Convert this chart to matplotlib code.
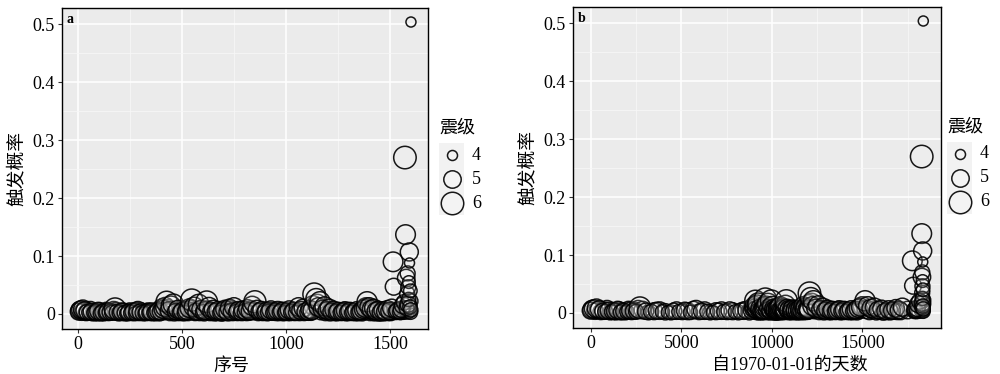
import matplotlib
matplotlib.use("Agg")
import matplotlib.pyplot as plt
from matplotlib.ticker import MultipleLocator, FuncFormatter
from matplotlib.patches import Rectangle

plt.rcParams['font.family'] = ['Liberation Serif', 'Noto Sans CJK SC', 'DejaVu Sans']

## --data (a thinned sample of the events)
seq_no = [2, 12, 22, 31, 42, 53, 64, 75, 86, 97, 108, 119, 130, 141, 152, 163, 177,
          188, 199, 210, 221, 232, 243, 254, 265, 276, 287, 298, 309, 320, 331, 342, 353, 364, 375, 386, 397,
          408, 418, 425, 436, 446, 457, 468, 479, 490, 501, 512, 523, 534, 546, 557, 568, 579, 590, 601, 612,
          618, 629, 640, 650,
          661, 672, 683, 694, 705, 716, 727, 738, 749, 760, 771, 782, 793, 804, 815, 826, 837, 850,
          861, 872, 883, 894, 905, 916, 927, 938, 949, 960, 971, 982, 993, 1004, 1015, 1026, 1037, 1048,
          1060, 1071, 1082, 1093, 1104, 1115, 1125, 1135,
          1145, 1155, 1163, 1174, 1185, 1196, 1207, 1218, 1229, 1240, 1251, 1262, 1273, 1284, 1295, 1306,
          1317, 1328, 1339, 1350, 1361, 1372, 1381, 1390,
          1400, 1410, 1421, 1432, 1443, 1454, 1465, 1476, 1487, 1498, 1508,
          1515, 1518, 1525, 1535, 1545, 1555, 1562, 1568, 1572, 1575, 1578, 1580, 1583, 1585, 1587, 1588,
          1590, 1591, 1593, 1594, 1596, 1598, 1600, 1601]

days = [0, 150, 320, 470, 650, 800, 990, 1150, 1320, 1490, 1660, 1830, 2000, 2170, 2340, 2510, 2720,
        3030, 3340, 3650, 3960, 4270, 4580, 4890, 5200, 5510, 5820, 6130, 6440, 6750, 7060, 7370, 7680, 7990, 8300, 8610, 8900,
        9010, 9060, 9090, 9140, 9190, 9240, 9290, 9340, 9390, 9440, 9490, 9540, 9590, 9640, 9690, 9740, 9790, 9840, 9890, 9940,
        9970, 10020, 10070, 10110,
        10150, 10190, 10230, 10270, 10310, 10340, 10380, 10420, 10460, 10490, 10530, 10570, 10610, 10640, 10680, 10720, 10760, 10800,
        10850, 10900, 10950, 11000, 11050, 11100, 11150, 11200, 11250, 11300, 11350, 11400, 11450, 11500, 11550, 11600, 11640, 11690,
        11740, 11790, 11840, 11890, 11940, 11990, 12030, 12080,
        12150, 12230, 12300, 12430, 12560, 12690, 12820, 12950, 13080, 13210, 13340, 13470, 13600, 13730, 13860, 13990,
        14120, 14250, 14380, 14510, 14640, 14770, 14900, 15150,
        15300, 15480, 15670, 15870, 16060, 16250, 16450, 16640, 16840, 17030, 17210,
        17760, 17800, 17840, 17900, 17960, 18020, 18080, 18150, 18277, 18280, 18290, 18300, 18305, 18310, 18315, 18318,
        18322, 18325, 18332, 18335, 18340, 18350, 18358, 18365]

prob = [0.004, 0.007, 0.008, 0.006, 0.003, 0.002, 0.004, 0.002, 0.003, 0.005, 0.001, 0.003, 0.002, 0.004, 0.003, 0.002, 0.009,
        0.003, 0.002, 0.004, 0.002, 0.001, 0.003, 0.002, 0.004, 0.001, 0.006, 0.003, 0.002, 0.001, 0.003, 0.002, 0.004, 0.002, 0.003, 0.005, 0.004,
        0.008, 0.012, 0.021, 0.006, 0.014, 0.017, 0.004, 0.008, 0.003, 0.005, 0.002, 0.006, 0.010, 0.024, 0.012, 0.004, 0.016, 0.008, 0.003, 0.006,
        0.021, 0.012, 0.005, 0.008,
        0.004, 0.006, 0.002, 0.005, 0.008, 0.003, 0.010, 0.004, 0.012, 0.003, 0.006, 0.002, 0.007, 0.004, 0.009, 0.005, 0.014, 0.021,
        0.008, 0.004, 0.006, 0.002, 0.005, 0.003, 0.007, 0.002, 0.004, 0.006, 0.003, 0.005, 0.002, 0.004, 0.007, 0.003, 0.005, 0.002,
        0.012, 0.006, 0.010, 0.004, 0.003, 0.008, 0.006, 0.034,
        0.026, 0.012, 0.021, 0.008, 0.013, 0.006, 0.010, 0.004, 0.007, 0.003, 0.005, 0.002, 0.004, 0.006, 0.003, 0.005,
        0.002, 0.004, 0.006, 0.003, 0.005, 0.008, 0.010, 0.021,
        0.012, 0.008, 0.010, 0.005, 0.007, 0.003, 0.006, 0.004, 0.008, 0.005, 0.010,
        0.090, 0.047, 0.004, 0.006, 0.003, 0.008, 0.015, 0.020, 0.270, 0.137, 0.062, 0.010, 0.035, 0.070, 0.017, 0.046,
        0.025, 0.055, 0.107, 0.088, 0.012, 0.040, 0.007, 0.504]

mag = [4.9, 5.1, 5.2, 5.0, 4.7, 4.6, 4.9, 4.5, 4.8, 5.0, 4.6, 4.8, 4.5, 4.9, 4.7, 4.6, 5.8,
       4.8, 4.6, 4.9, 4.5, 4.4, 4.8, 4.6, 4.9, 4.5, 5.1, 4.8, 4.6, 4.4, 4.8, 4.6, 5.0, 4.5, 4.8, 5.0, 4.9,
       5.1, 5.3, 5.7, 5.0, 5.4, 5.5, 4.8, 5.1, 4.7, 5.0, 4.6, 5.1, 5.2, 5.9, 5.4, 4.9, 5.6, 5.1, 4.7, 5.1,
       5.8, 5.3, 4.9, 5.1,
       4.9, 5.1, 4.6, 5.0, 5.1, 4.8, 5.1, 4.9, 5.2, 4.7, 5.1, 4.6, 5.1, 4.8, 5.1, 5.0, 5.3, 5.9,
       5.1, 4.9, 5.1, 4.6, 5.0, 4.8, 5.1, 4.6, 4.9, 5.1, 4.7, 5.0, 4.5, 4.9, 5.1, 4.7, 5.0, 4.6,
       5.2, 5.1, 5.1, 4.9, 4.7, 5.1, 5.1, 6.0,
       5.6, 5.2, 5.5, 5.1, 5.3, 5.0, 5.1, 4.9, 5.0, 4.7, 5.0, 4.6, 4.9, 5.0, 4.7, 5.0,
       4.6, 4.9, 5.0, 4.7, 5.0, 5.1, 5.1, 5.5,
       5.2, 5.1, 5.1, 5.0, 5.0, 4.8, 5.0, 4.9, 5.0, 5.0, 5.1,
       5.4, 4.9, 4.5, 4.7, 4.4, 4.8, 4.9, 4.7, 6.0, 5.4, 5.0, 4.6, 4.6, 4.6, 4.8, 4.6,
       4.5, 4.3, 5.1, 4.0, 4.5, 4.4, 4.5, 4.0]

## --more events in the dense band near zero
seq_no_extra = [7, 17, 27, 37, 47, 58, 69, 80, 91, 102, 113, 124, 135, 146, 157, 170,
                182, 193, 204, 215, 226, 237, 248, 259, 270, 281, 292, 303, 314, 325, 336, 347, 358, 369, 380, 391, 403,
                413, 430, 441, 451, 462, 473, 484, 495, 506, 517, 528, 540, 551, 562, 573, 584, 595, 606, 623, 634, 645,
                656, 667, 678, 689, 700, 711, 722, 733, 744, 755, 766, 777, 788, 799, 810, 821, 832, 843,
                866, 877, 888, 899, 910, 921, 932, 943, 954, 965, 976, 987, 998, 1009, 1020, 1031, 1042, 1054,
                1065, 1076, 1087, 1098, 1109, 1120, 1130,
                1150, 1168, 1179, 1190, 1201, 1212, 1223, 1234, 1245, 1256, 1267, 1278, 1289, 1300, 1311, 1322,
                1333, 1344, 1355, 1366, 1377, 1385,
                1395, 1405, 1415, 1426, 1437, 1448, 1459, 1470, 1481, 1492, 1503, 1510,
                1530, 1540, 1550, 1558, 1565, 1576, 1582, 1589, 1592, 1597, 1599]

days_extra = [70, 240, 400, 560, 720, 900, 1070, 1240, 1400, 1580, 1750, 1920, 2090, 2260, 2420, 2620,
              2880, 3190, 3500, 3810, 4120, 4430, 4740, 5050, 5360, 5670, 5980, 6290, 6600, 6910, 7220, 7530, 7840, 8150, 8460, 8760, 8990,
              9035, 9110, 9165, 9215, 9265, 9315, 9365, 9415, 9465, 9515, 9565, 9615, 9665, 9715, 9765, 9815, 9865, 9915, 9995, 10045, 10090,
              10130, 10170, 10210, 10250, 10290, 10325, 10360, 10400, 10440, 10475, 10510, 10550, 10590, 10625, 10660, 10700, 10740, 10780,
              10875, 10925, 10975, 11025, 11075, 11125, 11175, 11225, 11275, 11325, 11375, 11425, 11475, 11525, 11575, 11620, 11665, 11715,
              11765, 11815, 11865, 11915, 11965, 12010, 12055,
              12190, 12360, 12490, 12620, 12750, 12880, 13010, 13140, 13270, 13400, 13530, 13660, 13790, 13920, 14050, 14180,
              14310, 14440, 14570, 14700, 14830, 15000,
              15220, 15390, 15570, 15770, 15960, 16150, 16350, 16540, 16740, 16930, 17120, 17500,
              17870, 17930, 17990, 18050, 18120, 18285, 18302, 18320, 18328, 18345, 18355]

prob_extra = [0.006, 0.003, 0.005, 0.002, 0.004, 0.006, 0.001, 0.003, 0.002, 0.004, 0.003, 0.001, 0.005, 0.002, 0.004, 0.006,
              0.005, 0.001, 0.003, 0.004, 0.002, 0.001, 0.004, 0.002, 0.003, 0.005, 0.002, 0.004, 0.001, 0.003, 0.004, 0.002, 0.003, 0.001, 0.004, 0.002, 0.010,
              0.005, 0.009, 0.003, 0.006, 0.002, 0.005, 0.003, 0.007, 0.002, 0.004, 0.003, 0.008, 0.005, 0.002, 0.006, 0.003, 0.005, 0.002, 0.007, 0.003, 0.004,
              0.002, 0.003, 0.005, 0.001, 0.003, 0.006, 0.002, 0.007, 0.003, 0.005, 0.002, 0.004, 0.003, 0.006, 0.002, 0.004, 0.007, 0.005,
              0.003, 0.005, 0.002, 0.004, 0.001, 0.005, 0.003, 0.004, 0.002, 0.003, 0.005, 0.001, 0.004, 0.002, 0.003, 0.005, 0.002, 0.004,
              0.003, 0.006, 0.002, 0.005, 0.003, 0.004, 0.015,
              0.017, 0.005, 0.009, 0.003, 0.006, 0.002, 0.005, 0.003, 0.001, 0.004, 0.002, 0.005, 0.001, 0.003, 0.004, 0.002,
              0.003, 0.001, 0.004, 0.002, 0.005, 0.012,
              0.006, 0.003, 0.005, 0.002, 0.004, 0.001, 0.003, 0.002, 0.004, 0.002, 0.003, 0.005,
              0.002, 0.005, 0.001, 0.004, 0.003, 0.008, 0.004, 0.015, 0.005, 0.022, 0.003]

mag_extra = [5.1, 4.8, 5.0, 4.7, 5.0, 5.1, 4.6, 4.9, 4.8, 5.0, 4.9, 4.6, 5.0, 4.7, 4.9, 5.1,
             5.0, 4.6, 4.9, 5.0, 4.8, 4.6, 5.0, 4.7, 4.9, 5.0, 4.7, 5.0, 4.6, 4.9, 5.0, 4.7, 4.9, 4.6, 5.0, 4.8, 5.2,
             5.0, 5.1, 4.9, 5.1, 4.8, 5.0, 4.9, 5.1, 4.8, 5.0, 4.9, 5.1, 5.0, 4.7, 5.1, 4.9, 5.0, 4.8, 5.1, 4.9, 5.0,
             4.8, 4.9, 5.0, 4.7, 4.9, 5.1, 4.8, 5.1, 4.9, 5.0, 4.7, 5.0, 4.9, 5.0, 4.7, 5.0, 5.1, 5.0,
             4.9, 5.0, 4.7, 5.0, 4.6, 5.0, 4.8, 5.0, 4.7, 4.9, 5.0, 4.6, 5.0, 4.7, 4.9, 5.0, 4.7, 5.0,
             4.9, 5.1, 4.7, 5.0, 4.8, 5.0, 5.3,
             5.4, 5.0, 5.1, 4.9, 5.1, 4.8, 5.0, 4.9, 4.6, 5.0, 4.7, 5.0, 4.6, 4.9, 5.0, 4.7,
             4.9, 4.6, 5.0, 4.8, 5.0, 5.2,
             5.1, 4.9, 5.0, 4.8, 5.0, 4.7, 4.9, 4.8, 5.0, 4.7, 4.9, 5.0,
             4.4, 4.7, 4.3, 4.6, 4.5, 4.8, 4.6, 4.8, 4.5, 4.7, 4.5]

legend_mags = [4, 5, 6]

all_seq = seq_no_extra + seq_no
all_days = days_extra + days
all_prob = prob_extra + prob
all_mag = mag_extra + mag


def msize(m):
    # marker area grows linearly with magnitude (like ggplot scale_size)
    return 52 + 105 * (m - 4)


FILL = (1, 1, 1, 0.12)
EDGE = (0.0, 0.0, 0.0, 0.9)


def gg_panel(ax, x, xlim, xmajor, xminor, xlabel, label_x, tag):
    ax.set_facecolor('#EBEBEB')
    ax.scatter(x, all_prob, s=[msize(m) for m in all_mag], facecolor=FILL,
               edgecolor=EDGE, linewidth=1.1, zorder=3)
    ax.set_xlim(*xlim)
    ax.set_ylim(-0.026, 0.528)
    ax.xaxis.set_major_locator(MultipleLocator(xmajor))
    ax.xaxis.set_minor_locator(MultipleLocator(xminor))
    ax.yaxis.set_major_locator(MultipleLocator(0.1))
    ax.yaxis.set_minor_locator(MultipleLocator(0.05))
    ax.yaxis.set_major_formatter(FuncFormatter(lambda v, p: '0' if abs(v) < 1e-9 else '%g' % v))
    ax.grid(which='major', color='white', linewidth=1.1)
    ax.grid(which='minor', color='#F7F7F7', linewidth=0.55)
    ax.set_axisbelow(True)
    ax.tick_params(which='major', length=3, width=0.8, color='#333333', labelsize=13, pad=2,
                   labelcolor='black')
    ax.tick_params(which='minor', length=0)
    for sp in ax.spines.values():
        sp.set_color('black')
        sp.set_linewidth(1.0)
    ax.set_xlabel(xlabel, fontsize=13)
    ax.xaxis.set_label_coords(label_x, -0.09)
    ax.set_ylabel('触发概率', fontsize=13.5, labelpad=5)
    ax.text(0.012, 0.985, tag, transform=ax.transAxes, fontsize=10, fontweight='bold',
            va='top', ha='left')


def gg_legend(fig, left_px, top_px):
    W, H = 1000.0, 374.0
    fig.text(left_px / W, 1 - (top_px - 15) / H, '震级', fontsize=13, va='center', ha='left')
    lax = fig.add_axes([left_px / W, 1 - (top_px + 72) / H, 50 / W, 72 / H])
    lax.set_xlim(0, 50)
    lax.set_ylim(72, 0)
    lax.axis('off')
    for i, m in enumerate(legend_mags):
        lax.add_patch(Rectangle((0, 24 * i), 25, 24, facecolor='#F2F2F2', edgecolor='none'))
        lax.scatter([12.5], [12 + 24 * i], s=msize(m), facecolor=FILL,
                    edgecolor=EDGE, linewidth=1.1, clip_on=False)
        lax.text(33, 12 + 24 * i, str(m), fontsize=13, va='center', ha='left')


fig = plt.figure(figsize=(10, 3.74), dpi=100)
ax1 = fig.add_axes([0.062, 0.1203, 0.366, 0.858])
ax2 = fig.add_axes([0.573, 0.123, 0.368, 0.858])

gg_panel(ax1, all_seq, (-78.5, 1683), 500, 250, '序号', 0.462, 'a')
gg_panel(ax2, all_days, (-977, 19343), 5000, 2500, '自1970-01-01的天数', 0.59, 'b')

gg_legend(fig, 439, 143)
gg_legend(fig, 947, 142)

fig.savefig('out.png', dpi=100)
